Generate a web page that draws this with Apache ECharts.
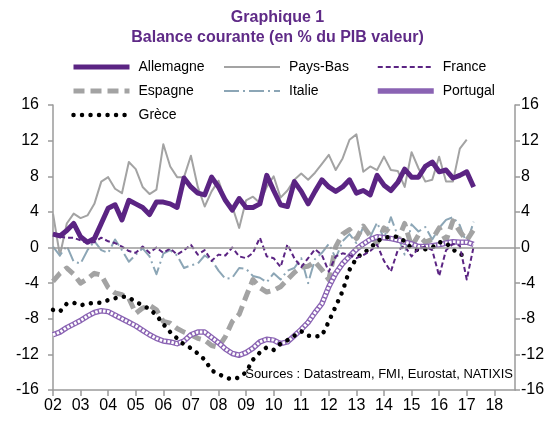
<!DOCTYPE html>
<html>
<head>
<meta charset="utf-8">
<script src="https://cdn.jsdelivr.net/npm/echarts@6/dist/echarts.min.js"></script>
<style>
  html, body { margin: 0; padding: 0; background: #fff; }
  #chart { width: 555px; height: 421px; }
</style>
</head>
<body>
<div id="chart"></div>
<script>
'use strict';

// quarters 2002T1 .. 2018T4 (the axis runs to the end of 2018)
var quarters = [];
for (var y = 2002; y <= 2018; y++) {
	for (var q = 1; q <= 4; q++) quarters.push(y + 'T' + q);
}

var yTicks = [-16, 16, 4];

var allemagne = [1.5, 1.3, 1.9, 2.7, 1.2, 0.6, 1.0, 2.7, 4.4, 4.8,
	3.1, 5.3, 4.9, 4.5, 3.7, 5.1, 5.1, 4.9, 4.5, 7.8,
	6.8, 6.1, 5.9, 7.9, 6.8, 5.3, 4.2, 5.5, 4.5, 4.5,
	4.9, 8.1, 6.4, 4.8, 4.6, 7.4, 6.3, 4.9, 6.3, 7.6,
	6.8, 6.3, 6.8, 7.6, 6.1, 6.4, 5.9, 8.1, 7.0, 6.4,
	7.3, 8.8, 7.9, 7.9, 9.1, 9.6, 8.5, 8.7, 7.8, 8.1,
	8.5, 6.8];

var paysBas = [3.8, -0.9, 2.7, 3.8, 3.3, 3.6, 4.9, 7.4, 7.9, 6.6,
	6.1, 9.6, 8.8, 6.8, 6.0, 6.5, 11.6, 9.1, 7.9, 7.9,
	10.3, 6.8, 4.6, 6.3, 7.5, 5.3, 4.6, 2.2, 5.3, 5.7,
	5.0, 6.8, 8.0, 5.6, 6.4, 7.6, 8.3, 7.6, 8.4, 9.4,
	10.4, 8.7, 10.0, 12.1, 12.7, 8.5, 9.1, 8.7, 10.2, 8.7,
	8.6, 6.8, 10.7, 8.9, 7.4, 7.6, 10.2, 7.4, 7.4, 11.1,
	12.1];

var france = [1.6, 1.2, 1.1, 1.1, 0.8, 0.5, 0.6, 1.1, 0.7, 0.5,
	0.1, -0.4, -0.6, 0.1, -0.6, 0, -0.6, -0.1, -0.8, -0.3,
	0.3, -0.8, -0.3, -1.5, -0.8, -0.9, 0, -1.0, -1.2, -0.6,
	1.1, -1.0, -1.2, -2.2, 0.35, -1.2, -2.2, -1.2, -0.2, -0.85,
	-2.7, -1.0, -0.65, -0.85, -1.2, -0.85, -0.4, 0.3, -1.5, -2.7,
	-0.3, 0.2, -1.0, -0.1, 0.1, -0.3, -3.2, -0.3, 0.4, 0.2,
	-3.6, 0.1];

var espagne = [-3.8, -2.9, -2.3, -3.0, -4.0, -3.5, -2.9, -3.1, -4.5, -5.1,
	-5.3, -5.7, -7.4, -6.8, -6.5, -7.0, -8.3, -8.5, -9.1, -9.5,
	-9.8, -10.2, -10.4, -11.0, -11.2, -10.0, -8.3, -7.5, -5.5, -3.6,
	-4.5, -5.0, -4.8, -4.4, -3.6, -2.8, -2.2, -2.1, -1.6, -2.5,
	-3.6, 0.1, 1.5, 2.0, 1.0, 2.4, 1.3, 0.5, 2.2, 1.6,
	0.8, 2.7, 0.1, 1.4, 0.6, 0.9, 2.2, 0.8, 3.0, 1.8,
	0.8, 2.0];

var italie = [0.1, -0.9, 0.2, -1.6, -1.8, -0.3, 0.7, -0.3, -0.6, 0.9,
	-0.3, -1.6, -0.8, -0.1, -1.0, -3.0, -0.7, -0.3, -0.9, -2.3,
	-2.0, -1.8, -0.9, -1.4, -2.6, -3.5, -3.4, -2.3, -2.4, -3.2,
	-3.4, -3.9, -2.9, -3.6, -2.6, -2.3, -1.2, -4.0, -1.3, -0.6,
	0.4, -1.2, 0.7, 1.5, 0.5, 2.3, 1.2, 2.8, 1.0, 3.4,
	1.3, -0.8, 2.6, 1.8, 2.3, 0.9, 2.2, 3.1, 3.4, 2.5,
	0.4, 2.9];

var portugal = [-9.8, -9.5, -9.0, -8.6, -8.2, -7.7, -7.3, -7.1, -7.2, -7.6,
	-8.0, -8.4, -8.8, -9.3, -9.8, -10.2, -10.5, -10.6, -10.8, -10.5,
	-9.8, -9.5, -9.5, -10.1, -10.7, -11.4, -11.9, -12.1, -11.8, -11.3,
	-10.6, -10.3, -10.4, -10.8, -10.6, -9.9, -9.2, -8.4, -7.3, -6.3,
	-4.4, -2.9, -1.8, -1.0, -0.2, 0.4, 0.9, 1.2, 1.1, 1.0,
	0.85, 0.6, 0.4, 0.1, 0.1, 0.2, 0.3, 0.5, 0.65, 0.6,
	0.6, 0.35];

var grece = [-7.0, -7.2, -6.3, -6.2, -6.5, -6.3, -6.2, -6.2, -5.9, -5.7,
	-5.5, -5.6, -6.1, -6.5, -6.9, -7.6, -8.6, -9.5, -10.2, -10.9,
	-11.3, -11.9, -12.6, -13.8, -14.2, -14.6, -14.8, -14.6, -14.0, -12.6,
	-11.8, -11.2, -11.5, -10.8, -10.4, -9.9, -9.4, -9.9, -10.0, -9.9,
	-8.3, -6.6, -4.9, -2.5, -1.2, -0.6, -0.1, 0.7, 1.1, 1.2,
	1.2, 0.7, -0.1, -0.3, -0.2, 0, 0.6, 0.5, -0.2, -0.8,
	-0.85];

var purple = '#5b2483';
var grey = '#a3a3a3';
var axisGrey = '#9a9a9a';
var font = '"Liberation Sans", Arial';

// line looks, shared by the series and their legend entries
var looks = {
	'Allemagne': { color: purple, width: 5, type: 'solid' },
	'Pays-Bas': { color: grey, width: 2, type: 'solid' },
	'France': { color: purple, width: 2, type: [5, 3] },
	'Espagne': { color: grey, width: 5, type: [11, 6] },
	'Italie': { color: '#8ca6b6', width: 2, type: [15, 4, 2, 4] },
	'Portugal': { color: '#8a63b3', width: 5.5, type: 'solid' },
	'Grèce': { color: '#000', width: 4.5, type: [0.01, 8.5], cap: 'round' }
};

function lineSeries(name, data, look, z) {
	return {
		name: name,
		type: 'line',
		data: data,
		symbol: 'none',
		showSymbol: false,
		lineStyle: { color: look.color, width: look.width, type: look.type, cap: look.cap || 'butt', join: 'round' },
		itemStyle: { color: look.color },
		emphasis: { disabled: true },
		z: z
	};
}

function legendCol(left, names) {
	return {
		orient: 'vertical',
		left: left,
		top: 60,
		padding: 0,
		itemWidth: 56,
		itemHeight: 14,
		itemGap: 10,
		selectedMode: false,
		itemStyle: { color: 'rgba(0,0,0,0)', borderColor: 'rgba(0,0,0,0)', borderWidth: 0 },
		textStyle: { fontFamily: font, fontSize: 14, color: '#000', lineHeight: 14, padding: [0, 0, 0, 4] },
		data: names.map(function (n) {
			var lk = looks[n];
			return {
				name: n,
				lineStyle: { color: lk.color, width: lk.width, type: lk.type, cap: lk.cap || 'butt' }
			};
		})
	};
}

function yAxisDef(pos) {
	return {
		type: 'value',
		position: pos,
		min: yTicks[0],
		max: yTicks[1],
		interval: yTicks[2],
		axisLine: { show: true, lineStyle: { color: axisGrey, width: 1.5 } },
		axisTick: { show: true, inside: false, length: 5, lineStyle: { color: axisGrey, width: 1.5 } },
		splitLine: { show: false },
		axisLabel: { color: '#000', fontSize: 16, fontFamily: font, margin: pos === 'left' ? 14 : 6 }
	};
}

var series = [
	lineSeries('Pays-Bas', paysBas, looks['Pays-Bas'], 2),
	lineSeries('Italie', italie, looks['Italie'], 2),
	lineSeries('Espagne', espagne, looks['Espagne'], 2),
	lineSeries('Portugal', portugal, looks['Portugal'], 3),
	// light dashed core on top of Portugal to mimic the hatched band
	lineSeries('Portugal hachures', portugal, { color: '#ffffff', width: 3, type: [2.5, 1.5] }, 3),
	lineSeries('Grèce', grece, looks['Grèce'], 4),
	lineSeries('France', france, looks['France'], 4),
	lineSeries('Allemagne', allemagne, looks['Allemagne'], 5)
];

series[0].markLine = {
	silent: true,
	symbol: 'none',
	label: { show: false },
	lineStyle: { color: axisGrey, width: 1.5, type: 'solid' },
	data: [{ yAxis: 0 }]
};

var option = {
	animation: false,
	backgroundColor: '#fff',
	grid: { left: 53, right: 40, top: 105, bottom: 31, containLabel: false },
	legend: [
		legendCol(71, ['Allemagne', 'Espagne', 'Grèce']),
		legendCol(223, ['Pays-Bas', 'Italie']),
		legendCol(375, ['France', 'Portugal'])
	],
	xAxis: {
		type: 'category',
		data: quarters,
		boundaryGap: false,
		axisLine: { onZero: false, lineStyle: { color: axisGrey, width: 1.5 } },
		axisTick: {
			show: true,
			length: 6,
			interval: function (i) { return i % 4 === 0; },
			lineStyle: { color: axisGrey, width: 1.5 }
		},
		axisLabel: {
			color: '#000',
			fontSize: 16,
			fontFamily: font,
			margin: 8,
			interval: function (i) { return i % 4 === 0; },
			formatter: function (v) { return v.slice(2, 4); }
		},
		splitLine: { show: false }
	},
	yAxis: [yAxisDef('left'), yAxisDef('right')],
	graphic: [
		{
			type: 'text', x: 277.5, y: 8,
			style: {
				text: 'Graphique 1\nBalance courante (en % du PIB valeur)',
				textAlign: 'center',
				fill: '#5f2a87',
				font: 'bold 16px ' + font,
				lineHeight: 20
			}
		},
		{
			type: 'text', x: 513, y: 368,
			style: {
				text: 'Sources : Datastream, FMI, Eurostat, NATIXIS',
				textAlign: 'right',
				fill: '#000',
				font: '13px ' + font
			},
			z: 10
		}
	],
	series: series
};

var chart = echarts.init(document.getElementById('chart'));
chart.setOption(option);
</script>
</body>
</html>
